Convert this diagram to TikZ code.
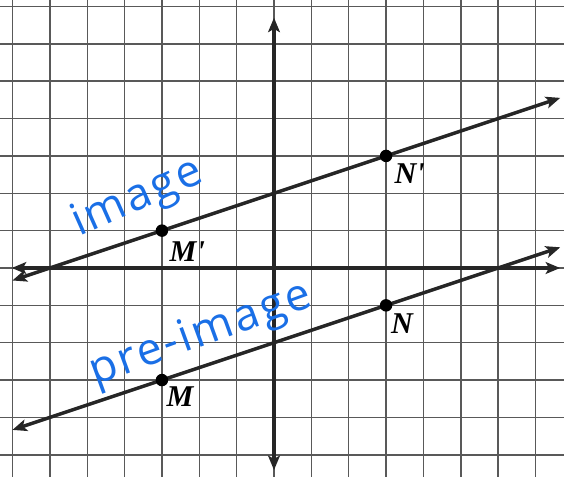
\documentclass[tikz,border=0pt]{standalone}
\usepackage{fontspec}
\setmainfont{Liberation Serif}
\newfontfamily\handfont[LetterSpace=6]{Open Sans}
\usetikzlibrary{arrows.meta, calc}
\definecolor{handblue}{HTML}{1A6FE6}

\begin{document}
\begin{tikzpicture}[>={Stealth[length=11pt,width=9pt,inset=2.5pt]},
    gridline/.style={black!65, line width=1.1pt},
    axisline/.style={<->, black!85, line width=2.6pt},
    ptdot/.style={circle, fill=black, inner sep=0pt, minimum size=9.5pt},
    ptlabel/.style={anchor=north west, inner sep=0pt, font=\fontsize{23}{23}\selectfont\bfseries\itshape},
    handtext/.style={text=handblue, inner sep=0pt, font=\handfont\fontsize{34}{34}\selectfont}]

    \useasboundingbox (-7.335,-5.589) rectangle (7.763,7.174);

    % Grid
    \foreach \x in {-7,...,7}
        \draw[gridline] (\x,-5.589) -- (\x,7.174);
    \foreach \y in {-5,...,7}
        \draw[gridline] (-7.335,\y) -- (7.763,\y);

    % Axes
    \draw[axisline] (-7.02,0) -- (7.66,0);
    \draw[axisline] (0,-5.41) -- (0,6.7);

    % Points of the pre-image and the image
    \coordinate (Mpos) at (-3,-3);
    \coordinate (Npos) at (3,-1);
    \coordinate (Mppos) at (-3,1);
    \coordinate (Nppos) at (3,3);

    % Lines
    \draw[axisline] ($(Mppos)!-0.667!(Nppos)$) -- ($(Mppos)!1.777!(Nppos)$);
    \draw[axisline] ($(Mpos)!-0.667!(Npos)$) -- ($(Mpos)!1.777!(Npos)$);

    \node[ptdot] (Mp) at (Mppos) {};
    \node[ptdot] (Np) at (Nppos) {};
    \node[ptdot] (M) at (Mpos) {};
    \node[ptdot] (N) at (Npos) {};

    \node[ptlabel] (Mplabel) at ([shift={(0.2,-0.28)}]Mp.center) {M\textquotesingle};
    \node[ptlabel] (Nplabel) at ([shift={(0.22,-0.2)}]Np.center) {N\textquotesingle};
    \node[ptlabel] (Mlabel) at ([shift={(0.12,-0.17)}]M.center) {M};
    \node[ptlabel] (Nlabel) at ([shift={(0.13,-0.22)}]N.center) {N};

    % Handwriting
    \node[handtext, rotate=24] (imagetext) at (-3.65,1.85) {image};
    \node[handtext, rotate=20] (preimagetext) at (-1.95,-1.8) {pre-image};
\end{tikzpicture}
\end{document}
